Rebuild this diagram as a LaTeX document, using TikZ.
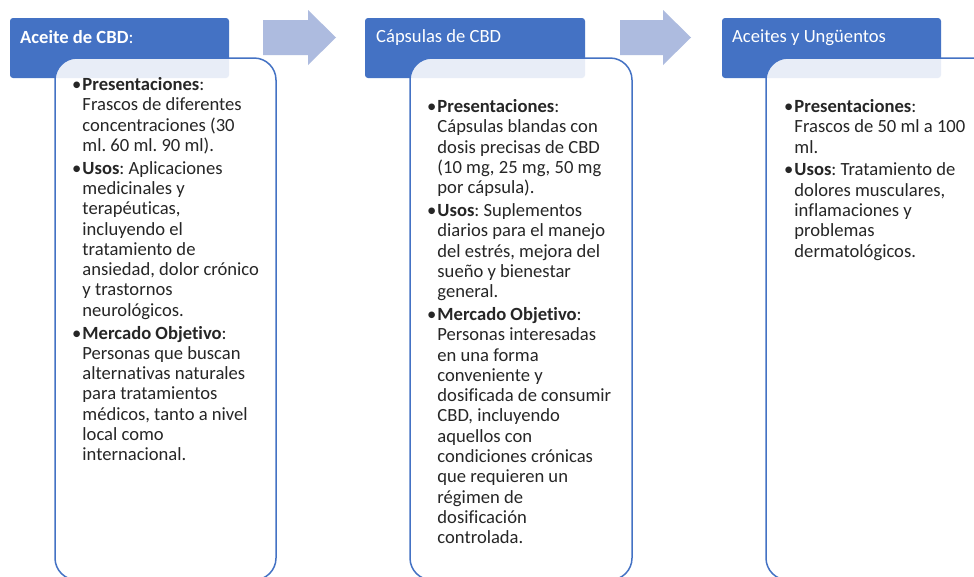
\documentclass[tikz,border=0pt]{standalone}
\usepackage{fontspec}
\setmainfont{Carlito}[Ligatures={NoCommon}]
\frenchspacing
\definecolor{azul}{HTML}{4472C4}
\definecolor{flechaazul}{HTML}{ADBBDF}
\tikzset{
  hdr/.style={fill=azul, rounded corners=3pt, draw=none},
  body/.style={draw=azul, line width=1.5pt, fill=white, fill opacity=0.88, rounded corners=22pt},
  hdrtxt/.style={anchor=west, text=white, font=\fontsize{18.6}{20}\selectfont, inner sep=0pt},
  bodytxt/.style={anchor=north west, inner sep=0pt, text=black!85,
    font=\fontsize{18.6}{20.3}\selectfont},
  flecha/.style={fill=flechaazul, draw=none}
}
\newcommand{\bul}{\textbullet}
\begin{document}
\begin{tikzpicture}[x=1pt,y=-1pt]
  \clip (0,0) rectangle (974,576);
  \fill[white] (0,0) rectangle (974,576);
  % flechas
  \fill[flecha] (263,20)--(308,20)--(308,10)--(336,37.5)--(308,65)--(308,55)--(263,55)--cycle;
  \fill[flecha] (620,20)--(663,20)--(663,10)--(691,37.5)--(663,65)--(663,55)--(620,55)--cycle;
  % cabeceras
  \draw[hdr] (10,18) rectangle (229,78);
  \draw[hdr] (365,18) rectangle (585,78);
  \draw[hdr] (722,18) rectangle (941,78);
  \node[hdrtxt] (tA) at (20,37.5) {\textbf{Aceite de CBD}:};
  \node[hdrtxt] (tB) at (376,37.5) {Cápsulas de CBD};
  \node[hdrtxt] (tC) at (732,37.5) {Aceites y Ungüentos};
  % cuerpos
  \draw[body] (55,58) rectangle (276,580);
  \draw[body] (410,58) rectangle (632,580);
  \draw[body] (766,58) rectangle (1000,580);
  \node[bodytxt] (bA) at (72,76) {\begin{tabular}{@{}l@{\hspace{1pt}}l@{}}
    \bul & \textbf{Presentaciones}: \\
         & Frascos de diferentes \\
         & concentraciones (30 \\
         & ml. 60 ml. 90 ml). \\[2.5pt]
    \bul & \textbf{Usos}: Aplicaciones \\
         & medicinales y \\
         & terapéuticas, \\
         & incluyendo el \\
         & tratamiento de \\
         & ansiedad, dolor crónico \\
         & y trastornos \\
         & neurológicos. \\[2.5pt]
    \bul & \textbf{Mercado Objetivo}: \\
         & Personas que buscan \\
         & alternativas naturales \\
         & para tratamientos \\
         & médicos, tanto a nivel \\
         & local como \\
         & internacional.
  \end{tabular}};
  \node[bodytxt] (bB) at (427,98) {\begin{tabular}{@{}l@{\hspace{1pt}}l@{}}
    \bul & \textbf{Presentaciones}: \\
         & Cápsulas blandas con \\
         & dosis precisas de CBD \\
         & (10 mg, 25 mg, 50 mg \\
         & por cápsula). \\[2.5pt]
    \bul & \textbf{Usos}: Suplementos \\
         & diarios para el manejo \\
         & del estrés, mejora del \\
         & sueño y bienestar \\
         & general. \\[2.5pt]
    \bul & \textbf{Mercado Objetivo}: \\
         & Personas interesadas \\
         & en una forma \\
         & conveniente y \\
         & dosificada de consumir \\
         & CBD, incluyendo \\
         & aquellos con \\
         & condiciones crónicas \\
         & que requieren un \\
         & régimen de \\
         & dosificación \\
         & controlada.
  \end{tabular}};
  \node[bodytxt] (bC) at (784,98) {\begin{tabular}{@{}l@{\hspace{1pt}}l@{}}
    \bul & \textbf{Presentaciones}: \\
         & Frascos de 50 ml a 100 \\
         & ml. \\[2.5pt]
    \bul & \textbf{Usos}: Tratamiento de \\
         & dolores musculares, \\
         & inflamaciones y \\
         & problemas \\
         & dermatológicos.
  \end{tabular}};
\end{tikzpicture}
\end{document}
